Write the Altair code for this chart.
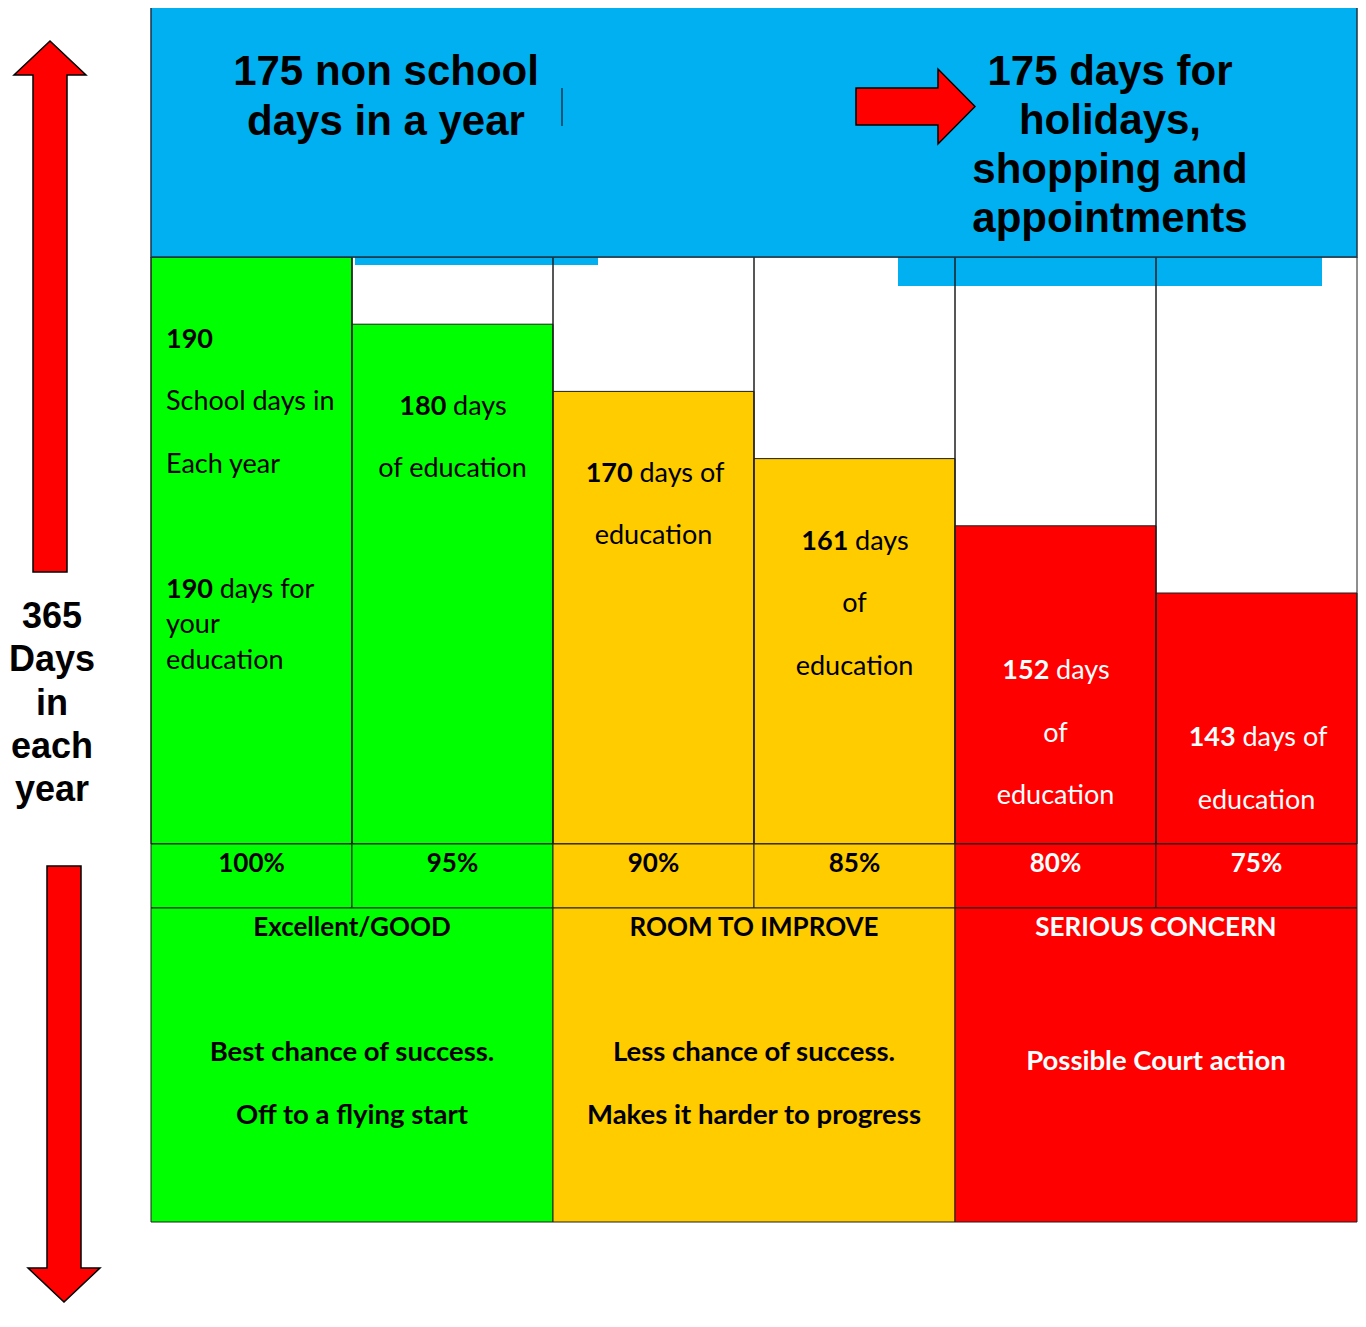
import altair as alt
import pandas as pd

# ---------------- data ----------------
attendance_labels = ["100%", "95%", "90%", "85%", "80%", "75%"]
attendance_pct = [100, 95, 90, 85, 80, 75]
education_days = [190, 180, 170, 161, 152, 143]
column_band = [0, 0, 1, 1, 2, 2]

band_titles = ["Excellent/GOOD", "ROOM TO IMPROVE", "SERIOUS CONCERN"]
band_notes = [
    ["Best chance of success.", "Off to a flying start"],
    ["Less chance of success.", "Makes it harder to progress"],
    ["Possible Court action"],
]
band_fill = ["#00FF00", "#FFCC00", "#FF0000"]
band_ink = ["#000000", "#000000", "#FFFFFF"]

# caption lines inside each bar: (bold part, regular part); {d} = days of education
bar_captions = [
    [("{d}", ""), ("", "School days in"), ("", "Each year"),
     ("{d}", "days for"), ("", "your"), ("", "education")],
    [("{d}", "days"), ("", "of education")],
    [("{d}", "days of"), ("", "education")],
    [("{d}", "days"), ("", "of"), ("", "education")],
    [("{d}", "days"), ("", "of"), ("", "education")],
    [("{d}", "days of"), ("", "education")],
]

left_title = ["175 non school", "days in a year"]
right_title = ["175 days for", "holidays,", "shopping and", "appointments"]
side_label = ["365", "Days", "in", "each", "year"]

# ---------------- layout ----------------
OFF = 8                      # page margin
W, H = 1350, 1295            # drawing size
COL_X0, COL_W = 151, 201.0   # first column left edge and column width (page px)
PX_PER_PCT = 13.44           # vertical pixels per attendance percent
TOP_Y, BASE_Y, ROW_Y, BAND_Y = 257, 844, 908, 1222
BODY_SIZE, PCT_SIZE, TITLE_SIZE, NOTE_SIZE = 27, 26, 26, 27.5
GAP = 0.25 * BODY_SIZE       # word space between bold number and the rest

caption_offsets = [[83, 145, 208, 333, 368, 404], [83, 145], [83, 145],
                   [83, 145, 208], [145, 208, 270], [145, 208]]
note_first_line = [1053, 1053, 1062]
note_line_height = 63


def ux(page_x):
    return (page_x - COL_X0) / COL_W


def uy(page_y):
    return 100 - (page_y - TOP_Y) / PX_PER_PCT


def px(page):
    return page - OFF


XS = alt.Scale(domain=[ux(OFF), ux(OFF + W)], nice=False, zero=False)
YS = alt.Scale(domain=[uy(OFF + H), uy(OFF)], nice=False, zero=False)


def X(f):
    return alt.X(f"{f}:Q", scale=XS, axis=None)


def Y(f):
    return alt.Y(f"{f}:Q", scale=YS, axis=None)


LATO_EM = {" ": 0.193, "d": 0.56, "a": 0.5, "y": 0.48, "s": 0.41,
           "o": 0.56, "f": 0.33}


def text_w(s, size, bold=False):
    if bold:
        return sum(0.58 if ch.isdigit() else 0.55 for ch in s) * size
    return sum(LATO_EM.get(ch, 0.52) for ch in s) * size


# ---------------- tables ----------------
cols = pd.DataFrame({
    "label": attendance_labels,
    "pct": attendance_pct,
    "days": education_days,
    "band": column_band,
})
cols["x"] = list(range(len(cols)))
cols["x2"] = cols["x"] + 1
cols["xc"] = cols["x"] + 0.5
cols["fill"] = [band_fill[b] for b in column_band]
cols["ink"] = [band_ink[b] for b in column_band]

bands = pd.DataFrame({
    "title": band_titles,
    "note": ["\n".join(n) for n in band_notes],
    "fill": band_fill,
    "ink": band_ink,
})
bands["x"] = [2 * i for i in range(len(bands))]
bands["x2"] = bands["x"] + 2
bands["xc"] = bands["x"] + 1
bands["note_y"] = [uy(v) for v in note_first_line]

rows = []
for i, lines in enumerate(bar_captions):
    for (b, r), dy in zip(lines, caption_offsets[i]):
        b = b.format(d=education_days[i])
        wb = text_w(b, BODY_SIZE, bold=True) if b else 0.0
        gap = GAP if (b and r) else 0.0
        wr = text_w(r, BODY_SIZE)
        if i == 0:
            left = ux(166)
            mode = "left"
        elif b:
            left = i + 0.5 - (wb + gap + wr) / 2 / COL_W
            mode = "left"
        else:
            left = i + 0.5
            mode = "center"
        rows.append({
            "bold": b, "rest": r, "mode": mode,
            "b_anchor": left + wb / COL_W,
            "r_anchor": left + (wb + gap) / COL_W if mode == "left" else left,
            "y": attendance_pct[i] - dy / PX_PER_PCT,
            "ink": band_ink[column_band[i]],
        })
caps = pd.DataFrame(rows)

strips = pd.DataFrame({
    "x": [ux(355), ux(898)], "x2": [ux(598), ux(1322)],
    "y": [uy(257), uy(257)], "y2": [uy(265), uy(286)],
})
one = pd.DataFrame({"k": [0]})
frame = pd.DataFrame({"x": [0], "x2": [len(attendance_pct)]})


def arrow_shape(points, unit=100.0):
    return "M" + " L".join(f"{a / unit:.4f},{b / unit:.4f}" for a, b in points) + " Z"


up_arrow = arrow_shape([(0, -265.5), (36, -231.5), (17, -231.5), (17, 265.5),
                        (-17, 265.5), (-17, -231.5), (-36, -231.5)])
down_arrow = arrow_shape([(-17, -218), (17, -218), (17, 184), (36, 184), (0, 218),
                          (-36, 184), (-17, 184)])
right_arrow = arrow_shape([(-59.5, -18.5), (22.5, -18.5), (22.5, -37.5), (59.5, 0),
                           (22.5, 37.5), (22.5, 18.5), (-59.5, 18.5)])

EDGE = "#1e1e1e"

# ---------------- layers ----------------
col_bg = alt.Chart(cols).mark_rect(fill="white").encode(
    x=X("x"), x2="x2", y=alt.value(px(TOP_Y)), y2=alt.value(px(BASE_Y)))

strip_layer = alt.Chart(strips).mark_rect(fill="#00B0F0").encode(
    x=X("x"), x2="x2", y=Y("y"), y2="y2")

bars = alt.Chart(cols).mark_rect(stroke=EDGE, strokeWidth=1).encode(
    x=X("x"), x2="x2", y=Y("pct"), y2=alt.value(px(BASE_Y)),
    fill=alt.Fill("fill:N", scale=None))

col_lines = alt.Chart(cols).mark_rect(fillOpacity=0, stroke=EDGE, strokeWidth=1).encode(
    x=X("x"), x2="x2", y=alt.value(px(TOP_Y)), y2=alt.value(px(BASE_Y)))

pct_row = alt.Chart(cols).mark_rect(stroke=EDGE, strokeWidth=1).encode(
    x=X("x"), x2="x2", y=alt.value(px(BASE_Y)), y2=alt.value(px(ROW_Y)),
    fill=alt.Fill("fill:N", scale=None))

pct_text = alt.Chart(cols).mark_text(
    font="Lato", fontWeight="bold", fontSize=PCT_SIZE, baseline="middle", align="center"
).encode(x=X("xc"), y=alt.value(px(864)), text="label:N",
         color=alt.Color("ink:N", scale=None))

band_rect = alt.Chart(bands).mark_rect(stroke=EDGE, strokeWidth=1).encode(
    x=X("x"), x2="x2", y=alt.value(px(ROW_Y)), y2=alt.value(px(BAND_Y)),
    fill=alt.Fill("fill:N", scale=None))

band_title = alt.Chart(bands).mark_text(
    font="Lato", fontWeight="bold", fontSize=TITLE_SIZE, baseline="middle", align="center"
).encode(x=X("xc"), y=alt.value(px(928)), text="title:N",
         color=alt.Color("ink:N", scale=None))

band_note = alt.Chart(bands).mark_text(
    font="Lato", fontWeight="bold", fontSize=NOTE_SIZE, baseline="middle", align="center",
    lineBreak="\n", lineHeight=note_line_height
).encode(x=X("xc"), y=Y("note_y"), text="note:N",
         color=alt.Color("ink:N", scale=None))

cap_bold = alt.Chart(caps).transform_filter("datum.bold != ''").mark_text(
    font="Lato", fontWeight="bold", fontSize=BODY_SIZE, baseline="middle", align="right"
).encode(x=X("b_anchor"), y=Y("y"), text="bold:N", color=alt.Color("ink:N", scale=None))

cap_left = alt.Chart(caps).transform_filter(
    "datum.rest != '' && datum.mode == 'left'").mark_text(
    font="Lato", fontSize=BODY_SIZE, baseline="middle", align="left"
).encode(x=X("r_anchor"), y=Y("y"), text="rest:N", color=alt.Color("ink:N", scale=None))

cap_center = alt.Chart(caps).transform_filter("datum.mode == 'center'").mark_text(
    font="Lato", fontSize=BODY_SIZE, baseline="middle", align="center"
).encode(x=X("r_anchor"), y=Y("y"), text="rest:N", color=alt.Color("ink:N", scale=None))

blue_box = alt.Chart(frame).mark_rect(fill="#00B0F0", stroke="#1c3446", strokeWidth=1.5).encode(
    x=X("x"), x2="x2", y=alt.value(px(6)), y2=alt.value(px(TOP_Y)))

cursor = alt.Chart(one).mark_rule(color="#000000", strokeWidth=1).encode(
    x=alt.value(px(562)), y=alt.value(px(88)), y2=alt.value(px(126)))


def arrow(shape, cx, cy):
    return alt.Chart(one).mark_point(
        shape=shape, size=40000, filled=True, fill="#FF0000", stroke="#000000",
        strokeWidth=1.5, opacity=1
    ).encode(x=alt.value(px(cx)), y=alt.value(px(cy)))


arrows = [arrow(up_arrow, 50, 306.5), arrow(down_arrow, 64, 1084),
          arrow(right_arrow, 915.5, 106.5)]


def block(lines, cx, first_y, size, lh):
    return alt.Chart(one).mark_text(
        font="Liberation Sans", fontWeight="bold", fontSize=size, lineHeight=lh,
        align="center", baseline="middle", color="#000000"
    ).encode(x=alt.value(px(cx)), y=alt.value(px(first_y)), text=alt.value(lines))


titles = [block(left_title, 386, 72, 42, 50),
          block(right_title, 1110, 72, 42, 49),
          block(side_label, 52, 617, 36, 43.3)]

chart = alt.layer(
    col_bg, strip_layer, bars, col_lines, pct_row, pct_text, band_rect,
    band_title, band_note, cap_bold, cap_left, cap_center, blue_box, cursor,
    *arrows, *titles
).properties(
    width=W, height=H, padding=0,
    autosize=alt.AutoSizeParams(type="none"),
    background="white",
).configure_view(strokeWidth=0)

chart.save("out.html", embed_options={"renderer": "svg", "actions": False})
